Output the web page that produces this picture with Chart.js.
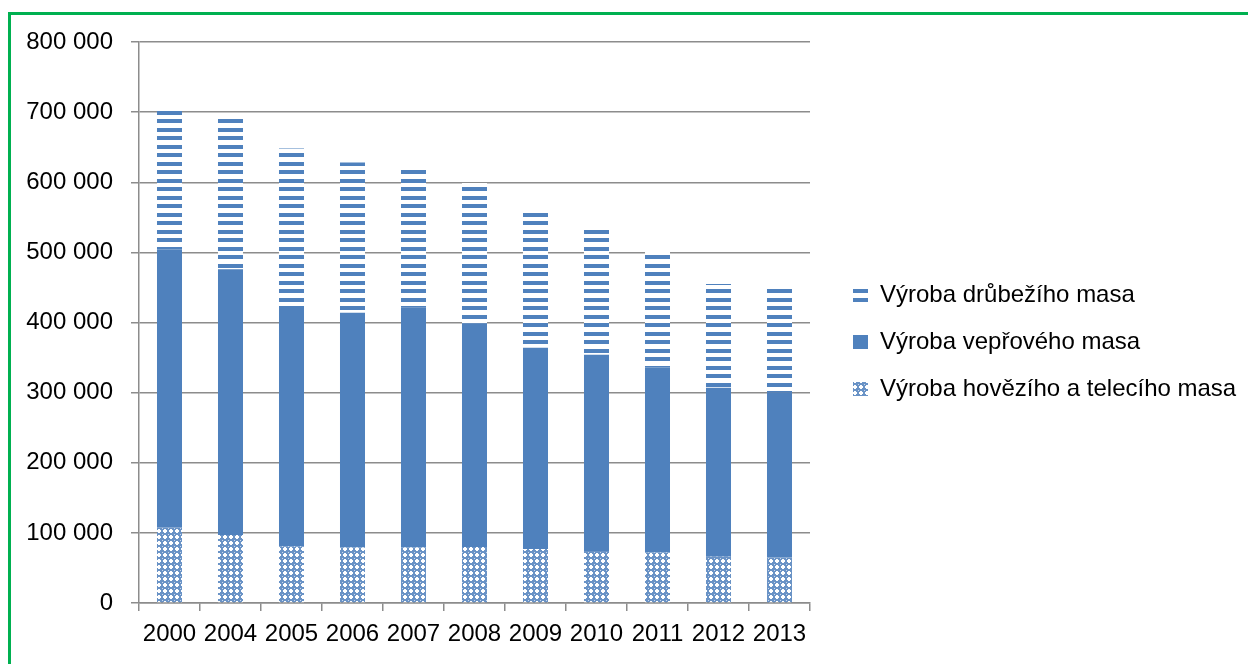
<!DOCTYPE html>
<html>
<head>
<meta charset="utf-8">
<script src="https://cdn.jsdelivr.net/npm/chart.js@4.4.1/dist/chart.umd.min.js"></script>
<style>
    html, body { margin: 0; padding: 0; background: #fff; }
    #wrap { position: relative; width: 1248px; height: 664px; }
    #frame {
        position: absolute; left: 8px; top: 12px; right: 0; bottom: 0;
        border-left: 3px solid #00b050; border-top: 3px solid #00b050;
        pointer-events: none;
    }
</style>
</head>
<body>
<div id="wrap">
    <canvas id="chart-area" width="1248" height="664"></canvas>
    <div id="frame"></div>
</div>
<script>
var years = ['2000', '2004', '2005', '2006', '2007', '2008', '2009', '2010', '2011', '2012', '2013'];
var beef = [108000, 97000, 81000, 79000, 79000, 80000, 77000, 74000, 72000, 66000, 65000];
var pork = [396000, 379000, 341000, 335000, 342000, 319000, 287000, 280000, 264000, 241000, 235000];
var poultry = [199000, 215000, 226000, 214000, 202000, 200000, 193000, 184000, 166000, 148000, 148000];
var yTicks = [0, 100000, 200000, 300000, 400000, 500000, 600000, 700000, 800000];

var blue = '#4f81bd';
var gridGray = '#8c8c8c';
var fontFamily = '"Liberation Sans", Arial, sans-serif';

// horizontal stripes (poultry)
function stripePattern() {
    var c = document.createElement('canvas');
    c.width = 4;
    c.height = 17;
    var g = c.getContext('2d');
    g.fillStyle = '#fff';
    g.fillRect(0, 0, 4, 17);
    g.fillStyle = blue;
    g.fillRect(0, 0, 4, 4);
    g.fillRect(0, 9, 4, 4);
    return g.createPattern(c, 'repeat');
}

// blue lattice with small round holes (beef)
function hatchPattern() {
    var c = document.createElement('canvas');
    c.width = 6;
    c.height = 6;
    var g = c.getContext('2d');
    g.fillStyle = '#6a93c6';
    g.fillRect(0, 0, 6, 6);
    g.fillStyle = '#fff';
    g.fillRect(2, 1, 2, 4);
    g.fillRect(1, 2, 4, 2);
    g.fillStyle = '#c9d8ec';
    g.fillRect(0, 0, 1, 1);
    return g.createPattern(c, 'repeat');
}

function spaced(v) {
    return String(v).replace(/\B(?=(\d{3})+(?!\d))/g, ' ');
}

var LEGEND_W = 1248 - 810;
var LEGEND_SHIFT = 20;

// keep plot right edge at 810 and push legend items a bit to the right
var legendFix = {
    id: 'legendFix',
    beforeLayout: function (chart) {
        var lg = chart.legend;
        if (lg && !lg._fixed) {
            var fit = lg.fit;
            lg.fit = function () {
                fit.call(this);
                this.width = LEGEND_W;
            };
            lg._fixed = true;
        }
    },
    afterLayout: function (chart) {
        if (chart.legend) {
            chart.legend.left += LEGEND_SHIFT;
        }
    }
};

var config = {
    type: 'bar',
    data: {
        labels: years,
        datasets: [{
            label: 'Výroba hovězího a telecího masa',
            data: beef,
            backgroundColor: hatchPattern()
        }, {
            label: 'Výroba vepřového masa',
            data: pork,
            backgroundColor: blue
        }, {
            label: 'Výroba drůbežího masa',
            data: poultry,
            backgroundColor: stripePattern()
        }]
    },
    options: {
        responsive: false,
        animation: false,
        layout: {
            padding: { top: 42, bottom: 22, left: 0, right: 0 }
        },
        datasets: {
            bar: {
                barPercentage: 0.41,
                categoryPercentage: 1,
                borderWidth: 0
            }
        },
        scales: {
            x: {
                stacked: true,
                grid: {
                    display: true,
                    offset: true,
                    drawOnChartArea: false,
                    drawTicks: true,
                    tickLength: 8,
                    color: gridGray,
                    lineWidth: 1.5
                },
                border: { display: true, color: gridGray, width: 1.5 },
                ticks: {
                    color: '#000',
                    font: { family: fontFamily, size: 24 },
                    padding: 9,
                    maxRotation: 0,
                    autoSkip: false
                },
                afterFit: function (scale) {
                    scale.height = 39;
                }
            },
            y: {
                stacked: true,
                min: 0,
                max: 800000,
                afterBuildTicks: function (scale) {
                    scale.ticks = yTicks.map(function (v) { return { value: v }; });
                },
                grid: {
                    color: gridGray,
                    lineWidth: 1.5,
                    drawTicks: true,
                    tickLength: 8
                },
                border: { display: true, color: gridGray, width: 1.5 },
                ticks: {
                    color: '#000',
                    font: { family: fontFamily, size: 24 },
                    padding: 18,
                    callback: function (v) { return spaced(v); }
                },
                afterFit: function (scale) {
                    scale.width = 139;
                }
            }
        },
        plugins: {
            legend: {
                position: 'right',
                align: 'center',
                reverse: true,
                labels: {
                    color: '#000',
                    font: { family: fontFamily, size: 24 },
                    boxWidth: 15,
                    boxHeight: 14,
                    padding: 23
                }
            },
            tooltip: { enabled: false }
        }
    },
    plugins: [legendFix]
};

var ctx = document.getElementById('chart-area').getContext('2d');
window.myBar = new Chart(ctx, config);
</script>
</body>
</html>
